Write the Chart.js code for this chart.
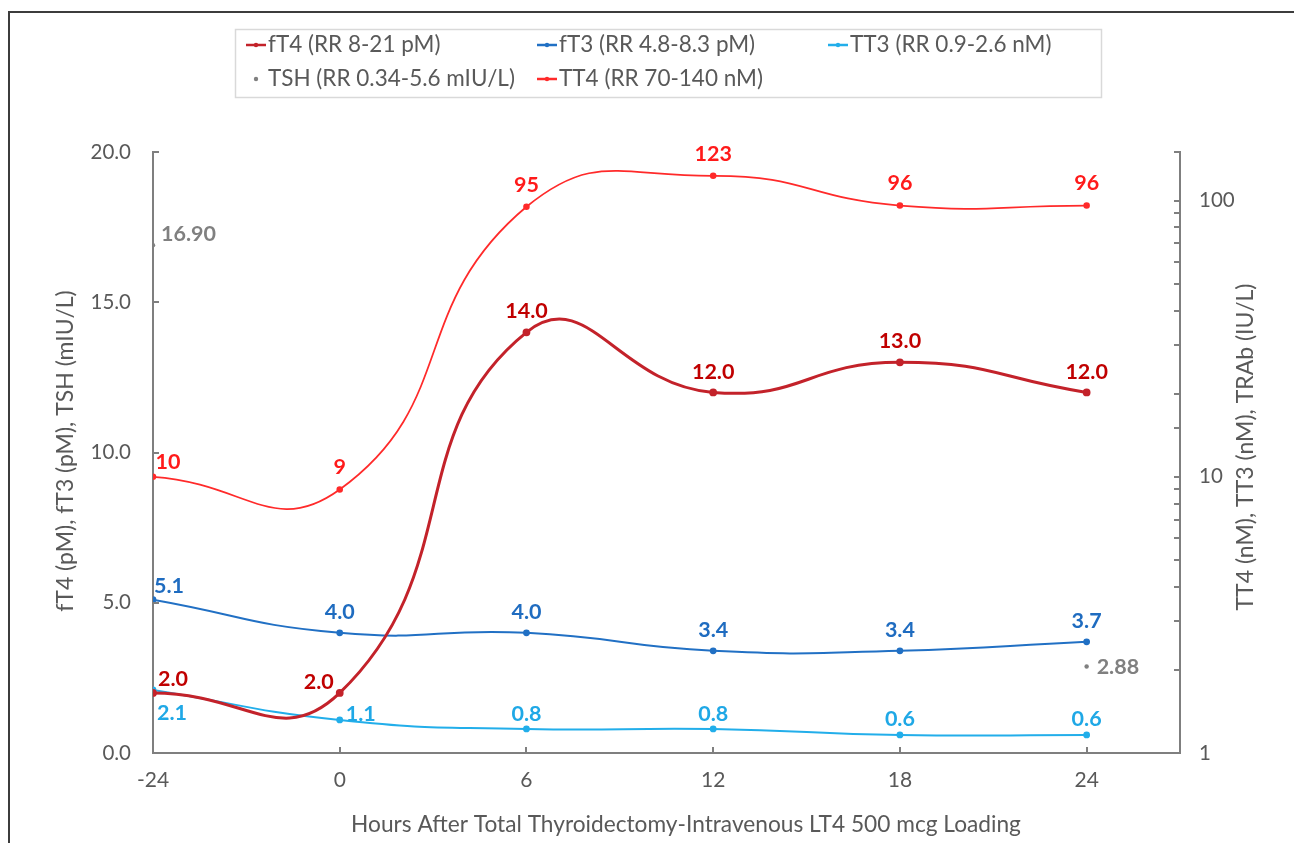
<!DOCTYPE html>
<html><head><meta charset="utf-8">
<script src="https://cdn.jsdelivr.net/npm/chart.js@4/dist/chart.umd.min.js"></script>
<style>
html,body{margin:0;padding:0;background:#fff;}
#wrap{position:relative;width:1294px;height:843px;overflow:hidden;}
#frame{position:absolute;left:8px;top:11px;right:-4px;bottom:-4px;border-top:2px solid #3c3c3c;border-left:2px solid #3c3c3c;pointer-events:none;}
canvas{position:absolute;left:0;top:0;}
</style></head>
<body><div id="wrap"><canvas id="c" width="1294" height="843"></canvas><div id="frame"></div></div>
<script>
// ---- data ----
const categories = ['-24', '0', '6', '12', '18', '24'];
const fT4 = [2.0, 2.0, 14.0, 12.0, 13.0, 12.0];
const fT3 = [5.1, 4.0, 4.0, 3.4, 3.4, 3.7];
const TT3 = [2.1, 1.1, 0.8, 0.8, 0.6, 0.6];
const TSH = [16.90, null, null, null, null, 2.88];
const TT4 = [10, 9, 95, 123, 96, 96];
const leftTicks = [0, 5, 10, 15, 20];
const rightTickLabels = [1, 10, 100];
const seriesNames = ['fT4 (RR 8-21 pM)', 'fT3 (RR 4.8-8.3 pM)', 'TT3 (RR 0.9-2.6 nM)', 'TSH (RR 0.34-5.6 mIU/L)', 'TT4 (RR 70-140 nM)'];
const xTitle = 'Hours After Total Thyroidectomy-Intravenous LT4 500 mcg Loading';
const yTitle = 'fT4 (pM), fT3 (pM), TSH (mIU/L)';
const y2Title = 'TT4 (nM), TT3 (nM), TRAb (IU/L)';

const FONT = 'Lato, "Open Sans", sans-serif';
const AXIS_COLOR = '#7f7f7f';
const TEXT_COLOR = '#595959';

function pts(arr){ return arr.map((v,i)=>({x:i, y:v})).filter(p=>p.y!==null); }

const C_FT4='#c3222a', C_FT3='#2170c4', C_TT3='#22aeea', C_TSH='#808080', C_TT4='#ff2a2a';

const datasets = [
  {label:seriesNames[0], data:pts(fT4), yAxisID:'y', borderColor:C_FT4, backgroundColor:C_FT4, borderWidth:3,
   dl:{color:'#c00000', fmt:v=>v.toFixed(1), pos:[[20,-14,'center'],[-21,-11,'center'],[0,-21,'center'],[0,-20,'center'],[0,-21,'center'],[0,-20,'center']]}},
  {label:seriesNames[1], data:pts(fT3), yAxisID:'y', borderColor:C_FT3, backgroundColor:C_FT3, borderWidth:2,
   dl:{color:'#1f6cc0', fmt:v=>v.toFixed(1), pos:[[16,-14,'center'],[0,-21,'center'],[0,-21,'center'],[0,-21,'center'],[0,-21,'center'],[0,-21,'center']]}},
  {label:seriesNames[2], data:pts(TT3), yAxisID:'y', borderColor:C_TT3, backgroundColor:C_TT3, borderWidth:2,
   dl:{color:'#1fa8e6', fmt:v=>v.toFixed(1), pos:[[19,23,'center'],[21,-6,'center'],[0,-15,'center'],[0,-15,'center'],[0,-16,'center'],[0,-16,'center']]}},
  {label:seriesNames[3], data:pts(TSH), yAxisID:'y', borderColor:C_TSH, backgroundColor:C_TSH, borderWidth:0, showLine:false, pointRadius:2.2,
   dl:{color:'#808080', fmt:v=>v.toFixed(2), pos:[[8,-11,'left'],[10,1,'left']]}},
  {label:seriesNames[4], data:pts(TT4), yAxisID:'y2', borderColor:C_TT4, backgroundColor:C_TT4, borderWidth:1.75,
   dl:{color:'#ff1a1a', fmt:v=>String(v), pos:[[15,-15,'center'],[0,-22,'center'],[0,-22,'center'],[0,-22,'center'],[0,-22,'center'],[0,-22,'center']]}}
];

const labelPlugin = {
  id:'dlabels',
  afterDatasetsDraw(chart){
    const ctx = chart.ctx;
    chart.data.datasets.forEach((ds,i)=>{
      if(!ds.dl) return;
      const meta = chart.getDatasetMeta(i);
      ctx.save();
      ctx.font = 'bold 21.5px ' + FONT;
      ctx.fillStyle = ds.dl.color;
      ctx.textBaseline = 'middle';
      meta.data.forEach((el,j)=>{
        const p = ds.dl.pos[j] || [0,-20,'center'];
        ctx.textAlign = p[2];
        ctx.fillText(ds.dl.fmt(ds.data[j].y), el.x + p[0], el.y + p[1]);
      });
      ctx.restore();
    });
  }
};

const tickPlugin = {
  id:'innerTicks',
  afterDraw(chart){
    const ctx = chart.ctx;
    const sx = chart.scales.x, sy = chart.scales.y, s2 = chart.scales.y2;
    ctx.save();
    ctx.strokeStyle = AXIS_COLOR; ctx.lineWidth = 2;
    ctx.beginPath();
    sx.ticks.forEach(t=>{ const px=Math.round(sx.getPixelForValue(t.value)); ctx.moveTo(px, sx.top); ctx.lineTo(px, sx.top-6); });
    sy.ticks.forEach(t=>{ const py=Math.round(sy.getPixelForValue(t.value)); ctx.moveTo(sy.right, py); ctx.lineTo(sy.right+6, py); });
    s2.ticks.forEach(t=>{ const py=Math.round(s2.getPixelForValue(t.value)); ctx.moveTo(s2.left, py); ctx.lineTo(s2.left-6, py); });
    ctx.stroke();
    // axis titles
    ctx.font = '22.7px ' + FONT; ctx.fillStyle = TEXT_COLOR; ctx.textAlign='center'; ctx.textBaseline='middle';
    ctx.fillText(xTitle, 686, 825);
    ctx.font = '23px ' + FONT;
    ctx.save(); ctx.translate(66, 451); ctx.rotate(-Math.PI/2); ctx.fillText(yTitle, 0, 0); ctx.restore();
    ctx.save(); ctx.translate(1246, 447); ctx.rotate(-Math.PI/2); ctx.fillText(y2Title, 0, 0); ctx.restore();
    ctx.restore();
  }
};

const legendPlugin = {
  id:'customLegend',
  afterDraw(chart){
    const ctx = chart.ctx;
    ctx.save();
    ctx.strokeStyle = '#d9d9d9'; ctx.lineWidth = 1.5;
    ctx.strokeRect(235.5, 29.5, 866, 68);
    const slots = [[246,45],[537,45],[828,45],[246,79],[537,79]];
    ctx.font = '22.5px ' + FONT; ctx.textBaseline='middle'; ctx.textAlign='left';
    chart.data.datasets.forEach((ds,i)=>{
      const [x,y] = slots[i];
      ctx.strokeStyle = ds.borderColor; ctx.fillStyle = ds.borderColor;
      if(ds.showLine !== false){
        ctx.lineWidth = 2.5;
        ctx.beginPath(); ctx.moveTo(x, y); ctx.lineTo(x+20, y); ctx.stroke();
      }
      ctx.beginPath(); ctx.arc(x+10, y, 2.2, 0, Math.PI*2); ctx.fill();
      ctx.fillStyle = TEXT_COLOR;
      ctx.fillText(ds.label, x+22, y);
    });
    ctx.restore();
  }
};

new Chart(document.getElementById('c'), {
  type:'line',
  data:{ datasets },
  options:{
    responsive:false, animation:false,
    layout:{ padding:{ top:152, left:55, right:38, bottom:8 } },
    elements:{ line:{ tension:0.5, cubicInterpolationMode:'default' }, point:{ radius:2.4, borderWidth:0, hoverRadius:2.4 } },
    plugins:{ legend:{display:false}, tooltip:{enabled:false} },
    scales:{
      x:{ type:'linear', position:'bottom', min:0, max:5.5,
        grid:{display:false, drawTicks:false}, border:{display:true, color:AXIS_COLOR, width:2},
        afterBuildTicks:(s)=>{ s.ticks = categories.map((c,i)=>({value:i})); },
        ticks:{ autoSkip:false, padding:15, color:TEXT_COLOR, font:{family:FONT, size:21}, maxRotation:0,
          callback:(v)=>categories[v] },
        afterFit:(s)=>{ s.height = 82; } },
      y:{ type:'linear', position:'left', min:0, max:20,
        grid:{display:false, drawTicks:false}, border:{display:true, color:AXIS_COLOR, width:2},
        afterBuildTicks:(s)=>{ s.ticks = leftTicks.map(v=>({value:v})); },
        ticks:{ padding:22, color:TEXT_COLOR, font:{family:FONT, size:20.5}, callback:(v)=>Number(v).toFixed(1) },
        afterFit:(s)=>{ s.width = 98; } },
      y2:{ type:'logarithmic', position:'right', min:1, max:150,
        grid:{display:false, drawTicks:false}, border:{display:true, color:AXIS_COLOR, width:2},
        ticks:{ autoSkip:false, padding:19, color:TEXT_COLOR, font:{family:FONT, size:20.5},
          callback:(v)=> rightTickLabels.includes(Number(v)) ? String(v) : '' },
        afterFit:(s)=>{ s.width = 76; } }
    }
  },
  plugins:[labelPlugin, tickPlugin, legendPlugin]
});
</script>
</body></html>
